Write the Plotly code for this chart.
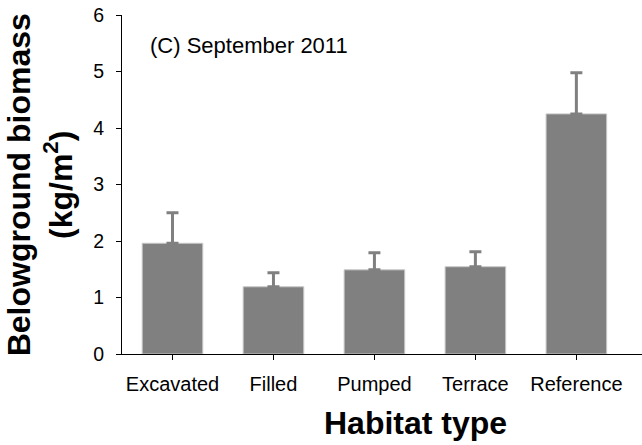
import plotly.graph_objects as go

habitats = ["Excavated", "Filled", "Pumped", "Terrace", "Reference"]
biomass = [1.96, 1.19, 1.49, 1.545, 4.25]
biomass_se = [0.54, 0.25, 0.30, 0.265, 0.73]

GREY = "#808080"
FONT = "Liberation Sans, Arial, sans-serif"

fig = go.Figure()
fig.add_trace(
    go.Bar(
        x=habitats,
        y=biomass,
        width=0.6,
        marker={"color": GREY, "line": {"color": "#c8c8c8", "width": 1}},
        error_y={
            "type": "data",
            "array": biomass_se,
            "symmetric": False,
            "arrayminus": [0] * len(biomass_se),
            "color": GREY,
            "thickness": 3,
            "width": 6,
        },
    )
)

# panel label
fig.add_annotation(
    text="(C) September 2011",
    xref="paper", yref="paper",
    x=0.05, y=0.911, xanchor="left", yanchor="middle",
    showarrow=False,
    font={"size": 22, "color": "black"},
)

# axis titles as annotations so they sit where the original has them
fig.add_annotation(
    text="<b>Habitat type</b>",
    xref="paper", yref="paper",
    x=0.565, y=-0.204, xanchor="center", yanchor="middle",
    showarrow=False,
    font={"size": 32, "color": "black"},
)
fig.add_annotation(
    text="<b>Belowground biomass<br>(kg/m<sup>2</sup>)</b>",
    xref="paper", yref="paper",
    x=-0.158, y=0.5, xanchor="center", yanchor="middle",
    textangle=-90,
    showarrow=False,
    font={"size": 32, "color": "black"},
)

fig.update_layout(
    width=642,
    height=445,
    margin={"l": 122, "r": 0, "t": 15, "b": 91},
    plot_bgcolor="white",
    paper_bgcolor="white",
    showlegend=False,
    font={"family": FONT, "color": "black", "size": 19.5},
    xaxis={
        "range": [-0.5, 4.65],
        "automargin": False,
        "showline": True,
        "linecolor": "black",
        "linewidth": 1,
        "ticks": "outside",
        "ticklen": 5,
        "tickcolor": "black",
        "tickfont": {"size": 20},
        "ticklabelstandoff": 7,
        "showgrid": False,
    },
    yaxis={
        "range": [0, 6],
        "dtick": 1,
        "automargin": False,
        "showline": True,
        "linecolor": "black",
        "linewidth": 1,
        "ticks": "outside",
        "ticklen": 5,
        "tickcolor": "black",
        "tickfont": {"size": 19.5},
        "ticklabelstandoff": 8,
        "showgrid": False,
        "zeroline": False,
    },
)

# drop the default page margin so the 642x445 figure fits the window exactly
fig.write_html(
    "out.html",
    config={"displayModeBar": False},
    post_script="document.body.style.margin='0px';",
)
